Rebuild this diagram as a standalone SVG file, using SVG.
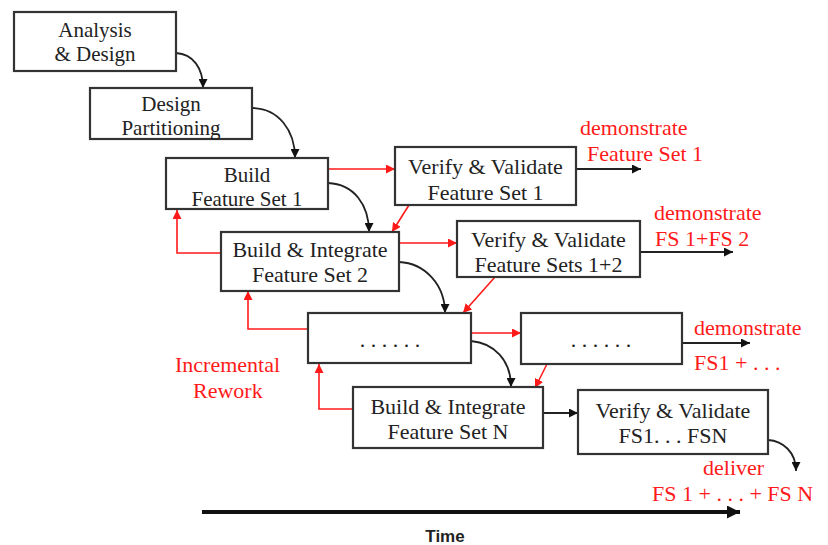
<svg xmlns="http://www.w3.org/2000/svg" width="828" height="545" viewBox="0 0 828 545">
<defs>
<marker id="ab" viewBox="0 0 10 10" refX="10" refY="5" markerUnits="userSpaceOnUse" markerWidth="9" markerHeight="9" orient="auto"><path d="M0,0 L10,5 L0,10 z" fill="#111"/></marker>
<marker id="ar" viewBox="0 0 10 10" refX="10" refY="5" markerUnits="userSpaceOnUse" markerWidth="9" markerHeight="9" orient="auto"><path d="M0,0 L10,5 L0,10 z" fill="#ff1a1a"/></marker>
<marker id="at" viewBox="0 0 10 10" refX="10" refY="5" markerUnits="userSpaceOnUse" markerWidth="13" markerHeight="13" orient="auto"><path d="M0,0 L10,5 L0,10 z" fill="#111"/></marker>
</defs>
<style>
.box{fill:#fff;stroke:#333;stroke-width:2.2}
.t{font-family:"Liberation Serif","Times New Roman",serif;font-size:22px;fill:#222;text-anchor:middle}
.s{font-size:21px}
.r{font-family:"Liberation Serif","Times New Roman",serif;font-size:22px;fill:#ff1a1a}
.cb{fill:none;stroke:#222;stroke-width:1.8}
.cr{fill:none;stroke:#ff1a1a;stroke-width:1.6}
</style>
<rect width="828" height="545" fill="#fff"/>
<g id="connectors">
<path class="cb" d="M176,53 C193,54 203,68 203,88" marker-end="url(#ab)"/>
<path class="cb" d="M252,108 C278,108 295,130 295,158" marker-end="url(#ab)"/>
<path class="cb" d="M328,183 C354,184 369,205 369,232" marker-end="url(#ab)"/>
<path class="cb" d="M399,262 C425,263 445,285 445,313" marker-end="url(#ab)"/>
<path class="cb" d="M471,341 C494,343 511,360 511,387" marker-end="url(#ab)"/>
<path class="cb" d="M768,440 C783,441 796,452 796,471" marker-end="url(#ab)"/>
<line class="cb" x1="576" y1="169" x2="641" y2="169" marker-end="url(#ab)"/>
<line class="cb" x1="640" y1="252" x2="733" y2="252" marker-end="url(#ab)"/>
<line class="cb" x1="680" y1="343" x2="750" y2="343" marker-end="url(#ab)"/>
<line class="cb" x1="543" y1="413" x2="578" y2="413" marker-end="url(#ab)"/>
<line class="cr" x1="328" y1="169" x2="395" y2="169" marker-end="url(#ar)"/>
<line class="cr" x1="399" y1="243" x2="457" y2="243" marker-end="url(#ar)"/>
<line class="cr" x1="471" y1="333" x2="521" y2="333" marker-end="url(#ar)"/>
<line class="cr" x1="409" y1="205" x2="392" y2="232" marker-end="url(#ar)"/>
<line class="cr" x1="495" y1="277" x2="463" y2="313" marker-end="url(#ar)"/>
<line class="cr" x1="547" y1="364" x2="535" y2="388" marker-end="url(#ar)"/>
<path class="cr" d="M221,253 H177 V210" marker-end="url(#ar)"/>
<path class="cr" d="M308,329 H248 V291" marker-end="url(#ar)"/>
<path class="cr" d="M353,409 H319 V364" marker-end="url(#ar)"/>
<line x1="202" y1="512" x2="740" y2="512" stroke="#111" stroke-width="4" marker-end="url(#at)"/>
</g>
<g id="n1"><rect class="box" x="14" y="12" width="162" height="59"/><text class="t s" x="95" y="37">Analysis</text><text class="t s" x="95" y="61">&amp; Design</text></g>
<g id="n2"><rect class="box" x="90" y="88" width="162" height="51"/><text class="t s" x="171" y="111">Design</text><text class="t s" x="171" y="135">Partitioning</text></g>
<g id="n3"><rect class="box" x="166" y="158" width="162" height="51"/><text class="t s" x="247" y="181.5">Build</text><text class="t s" x="247" y="205.5">Feature Set 1</text></g>
<g id="n4"><rect class="box" x="395" y="147" width="181" height="58"/><text class="t" x="485.5" y="174">Verify &amp; Validate</text><text class="t" x="485.5" y="200">Feature Set 1</text></g>
<g id="n5"><rect class="box" x="221" y="232" width="178" height="59"/><text class="t" x="310" y="257">Build &amp; Integrate</text><text class="t" x="310" y="282">Feature Set 2</text></g>
<g id="n6"><rect class="box" x="457" y="221" width="183" height="56"/><text class="t" x="548.5" y="247">Verify &amp; Validate</text><text class="t" x="548.5" y="272">Feature Sets 1+2</text></g>
<g id="n7"><rect class="box" x="308" y="313" width="163" height="50"/><text class="t" x="390" y="347">. . . . . .</text></g>
<g id="n8"><rect class="box" x="521" y="313" width="161" height="51"/><text class="t" x="601" y="347">. . . . . .</text></g>
<g id="n9"><rect class="box" x="353" y="387" width="190" height="61"/><text class="t" x="448" y="414">Build &amp; Integrate</text><text class="t" x="448" y="439">Feature Set N</text></g>
<g id="n10"><rect class="box" x="578" y="390" width="190" height="64"/><text class="t" x="673" y="418">Verify &amp; Validate</text><text class="t" x="673" y="443">FS1. . . FSN</text></g>
<g id="labels">
<text class="r" x="580" y="135">demonstrate</text>
<text class="r" x="587" y="161">Feature Set 1</text>
<text class="r" x="654" y="220">demonstrate</text>
<text class="r" x="655" y="246">FS 1+FS 2</text>
<text class="r" x="694" y="335">demonstrate</text>
<text class="r" x="694" y="370">FS1 +  . . .</text>
<text class="r" x="703" y="475">deliver</text>
<text class="r" x="652" y="501">FS 1 + . . . + FS N</text>
<text class="r" x="175" y="372">Incremental</text>
<text class="r" x="193" y="398">Rework</text>
<text x="445" y="542" font-family="'Liberation Sans',Arial,sans-serif" font-weight="bold" font-size="17" text-anchor="middle" fill="#222">Time</text>
</g>
</svg>
